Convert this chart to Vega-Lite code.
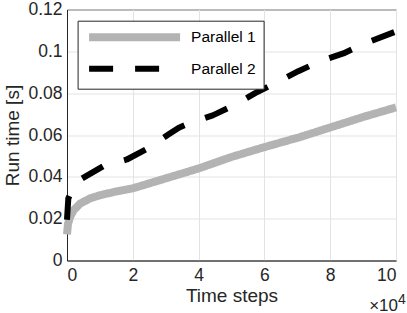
{
  "$schema": "https://vega.github.io/schema/vega-lite/v6.json",
  "width": 329,
  "height": 251,
  "autosize": {"type": "none"},
  "padding": {"left": 67, "top": 9.5, "right": 11, "bottom": 52.5},
  "config": {
    "font": "Liberation Sans",
    "background": "white",
    "view": {"stroke": "#262626", "strokeWidth": 1},
    "axis": {
      "domainColor": "#262626",
      "domainWidth": 1,
      "gridColor": "#e3e3e3",
      "gridWidth": 1,
      "gridOpacity": 1,
      "ticks": false,
      "labelColor": "#262626",
      "labelFontSize": 17.5,
      "titleColor": "#262626",
      "titleFontSize": 19,
      "titleFontWeight": "normal"
    }
  },
  "datasets": {
    "runs": [
      {"steps": 0, "time": 0.0125, "series": "Parallel 1"},
      {"steps": 300, "time": 0.0175, "series": "Parallel 1"},
      {"steps": 1000, "time": 0.021, "series": "Parallel 1"},
      {"steps": 2000, "time": 0.024, "series": "Parallel 1"},
      {"steps": 4000, "time": 0.0272, "series": "Parallel 1"},
      {"steps": 7000, "time": 0.0297, "series": "Parallel 1"},
      {"steps": 10000, "time": 0.0312, "series": "Parallel 1"},
      {"steps": 15000, "time": 0.033, "series": "Parallel 1"},
      {"steps": 20000, "time": 0.0345, "series": "Parallel 1"},
      {"steps": 28000, "time": 0.0383, "series": "Parallel 1"},
      {"steps": 40000, "time": 0.044, "series": "Parallel 1"},
      {"steps": 50000, "time": 0.0495, "series": "Parallel 1"},
      {"steps": 60000, "time": 0.0542, "series": "Parallel 1"},
      {"steps": 70800, "time": 0.059, "series": "Parallel 1"},
      {"steps": 80000, "time": 0.0636, "series": "Parallel 1"},
      {"steps": 90000, "time": 0.0686, "series": "Parallel 1"},
      {"steps": 100000, "time": 0.0732, "series": "Parallel 1"},
      {"steps": 0, "time": 0.0195, "series": "Parallel 2"},
      {"steps": 400, "time": 0.0297, "series": "Parallel 2"},
      {"steps": 2000, "time": 0.035, "series": "Parallel 2"},
      {"steps": 4600, "time": 0.0392, "series": "Parallel 2"},
      {"steps": 11000, "time": 0.0451, "series": "Parallel 2"},
      {"steps": 18200, "time": 0.0483, "series": "Parallel 2"},
      {"steps": 24500, "time": 0.0535, "series": "Parallel 2"},
      {"steps": 30800, "time": 0.0602, "series": "Parallel 2"},
      {"steps": 34000, "time": 0.0635, "series": "Parallel 2"},
      {"steps": 36900, "time": 0.0654, "series": "Parallel 2"},
      {"steps": 44300, "time": 0.0694, "series": "Parallel 2"},
      {"steps": 50600, "time": 0.0741, "series": "Parallel 2"},
      {"steps": 57200, "time": 0.08, "series": "Parallel 2"},
      {"steps": 63800, "time": 0.0852, "series": "Parallel 2"},
      {"steps": 70300, "time": 0.0905, "series": "Parallel 2"},
      {"steps": 76900, "time": 0.0952, "series": "Parallel 2"},
      {"steps": 84000, "time": 0.099, "series": "Parallel 2"},
      {"steps": 90600, "time": 0.1038, "series": "Parallel 2"},
      {"steps": 100000, "time": 0.1095, "series": "Parallel 2"}
    ]
  },
  "layer": [
    {
      "data": {"name": "runs"},
      "mark": {"type": "line", "strokeCap": "butt", "strokeJoin": "round"},
      "encoding": {
        "x": {
          "field": "steps",
          "type": "quantitative",
          "scale": {"domain": [0, 100000], "nice": false},
          "axis": {
            "values": [0, 20000, 40000, 60000, 80000, 100000],
            "labelExpr": "datum.value / 10000",
            "labelPadding": 6,
            "title": "Time steps",
            "titlePadding": 2
          }
        },
        "y": {
          "field": "time",
          "type": "quantitative",
          "scale": {"domain": [0, 0.12], "nice": false},
          "axis": {
            "values": [0, 0.02, 0.04, 0.06, 0.08, 0.1, 0.12],
            "labelExpr": "'' + round(datum.value * 100) / 100",
            "labelPadding": 5,
            "title": "Run time [s]",
            "titlePadding": 5
          }
        },
        "color": {
          "field": "series",
          "type": "nominal",
          "scale": {"domain": ["Parallel 1", "Parallel 2"], "range": ["#b3b3b3", "#000000"]},
          "legend": {
            "orient": "none",
            "legendX": 10.6,
            "legendY": 11.2,
            "title": null,
            "symbolType": "M-1,0H17.2",
            "symbolSize": 100,
            "strokeColor": "#262626",
            "fillColor": "white",
            "padding": 7.5,
            "labelFontSize": 15.5,
            "labelColor": "#000000",
            "labelOffset": 88,
            "rowPadding": 3.5,
            "cornerRadius": 0
          }
        },
        "strokeDash": {
          "field": "series",
          "type": "nominal",
          "scale": {"domain": ["Parallel 1", "Parallel 2"], "range": [[1, 0], [24, 22]]}
        },
        "strokeWidth": {
          "field": "series",
          "type": "nominal",
          "scale": {"type": "ordinal", "domain": ["Parallel 1", "Parallel 2"], "range": [8, 6]}
        }
      }
    },
    {
      "data": {"values": [{"label": "×10"}]},
      "mark": {"type": "text", "align": "right", "baseline": "alphabetic", "dx": 2, "dy": 50, "fontSize": 17, "color": "#262626"},
      "encoding": {
        "x": {"datum": 100000},
        "y": {"datum": 0},
        "text": {"field": "label"}
      }
    },
    {
      "data": {"values": [{"label": "4"}]},
      "mark": {"type": "text", "align": "left", "baseline": "alphabetic", "dx": 2, "dy": 43, "fontSize": 14, "color": "#262626"},
      "encoding": {
        "x": {"datum": 100000},
        "y": {"datum": 0},
        "text": {"field": "label"}
      }
    }
  ]
}
